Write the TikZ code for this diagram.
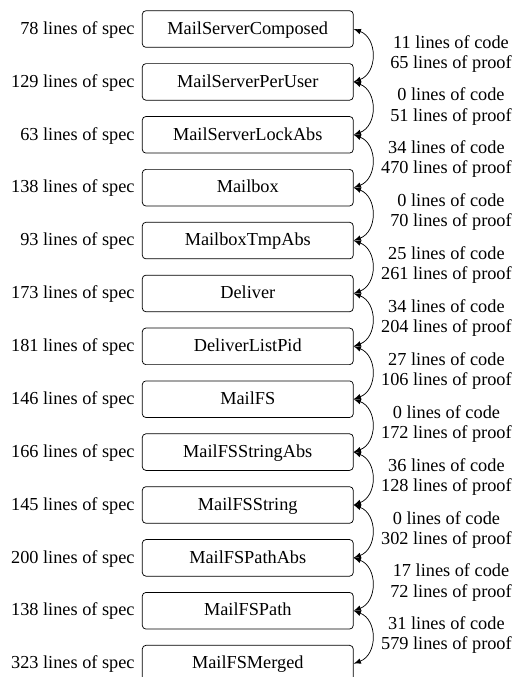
\documentclass[tikz,border=0pt]{standalone}
\usepackage{fontspec}
\setmainfont{Liberation Serif}
\usetikzlibrary{matrix,positioning,arrows,calc}

\begin{document}
\begin{tikzpicture}[x=0.5465pt, y=-0.5465pt, >=latex,
  layer/.style={draw, rounded corners=2pt, minimum width=115.3pt, minimum height=20pt,
    text height=1.5ex, text depth=.25ex, anchor=base},
  spec/.style={anchor=base east},
  cost/.style={midway, anchor=east, xshift=80pt, yshift=1pt, align=center,
    font=\fontsize{10}{11}\selectfont}]
  \useasboundingbox (0,0) rectangle (516,677);
  \matrix (m) [matrix of nodes, row sep=8.5pt, column sep=4pt, inner sep=0pt,
    anchor=north east, column 1/.style={nodes={spec}}, column 2/.style={nodes={layer}}] at (354,10)
  {
78 lines of spec & MailServerComposed \\
129 lines of spec & MailServerPerUser \\
63 lines of spec & MailServerLockAbs \\
138 lines of spec & Mailbox \\
93 lines of spec & MailboxTmpAbs \\
173 lines of spec & Deliver \\
181 lines of spec & DeliverListPid \\
146 lines of spec & MailFS \\
166 lines of spec & MailFSStringAbs \\
145 lines of spec & MailFSString \\
200 lines of spec & MailFSPathAbs \\
138 lines of spec & MailFSPath \\
323 lines of spec & MailFSMerged \\
};
  \path[<->, every edge/.style={draw, bend left=70, looseness=1.25}]
  (m-1-2.east) edge node [cost] {11 lines of code\\65 lines of proof} (m-2-2.east)
  (m-2-2.east) edge node [cost] {0 lines of code\\51 lines of proof} (m-3-2.east)
  (m-3-2.east) edge node [cost] {34 lines of code\\470 lines of proof} (m-4-2.east)
  (m-4-2.east) edge node [cost] {0 lines of code\\70 lines of proof} (m-5-2.east)
  (m-5-2.east) edge node [cost] {25 lines of code\\261 lines of proof} (m-6-2.east)
  (m-6-2.east) edge node [cost] {34 lines of code\\204 lines of proof} (m-7-2.east)
  (m-7-2.east) edge node [cost] {27 lines of code\\106 lines of proof} (m-8-2.east)
  (m-8-2.east) edge node [cost] {0 lines of code\\172 lines of proof} (m-9-2.east)
  (m-9-2.east) edge node [cost] {36 lines of code\\128 lines of proof} (m-10-2.east)
  (m-10-2.east) edge node [cost] {0 lines of code\\302 lines of proof} (m-11-2.east)
  (m-11-2.east) edge node [cost] {17 lines of code\\72 lines of proof} (m-12-2.east)
  (m-12-2.east) edge node [cost] {31 lines of code\\579 lines of proof} (m-13-2.east);
\end{tikzpicture}
\end{document}
